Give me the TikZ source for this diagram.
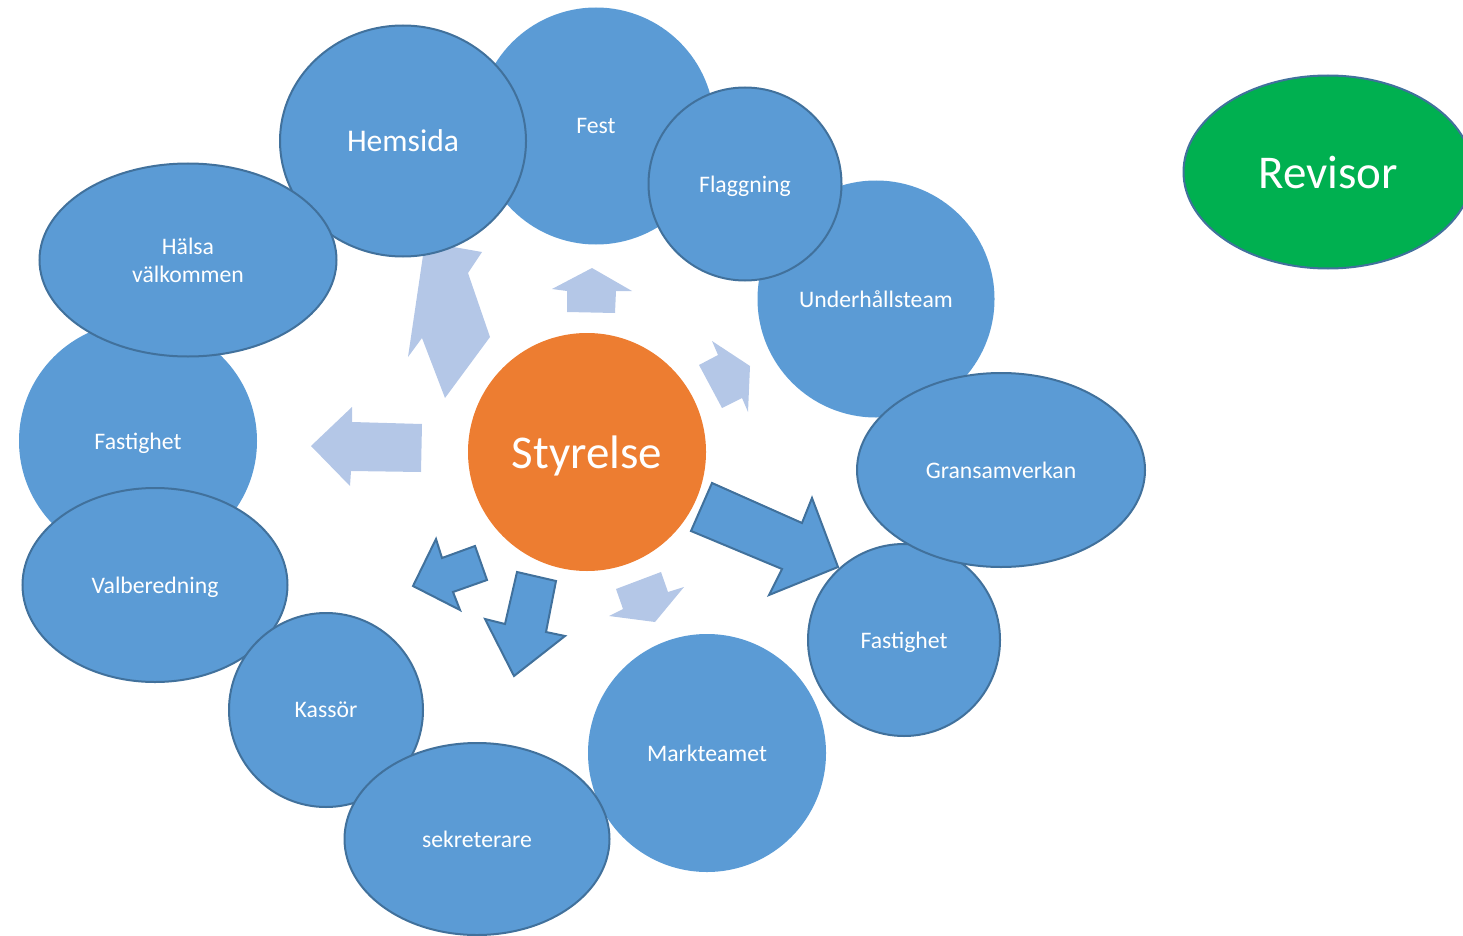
\documentclass[tikz,border=0pt]{standalone}
\usepackage{fontspec}
\setmainfont{Carlito}
\usetikzlibrary{shapes.geometric}

\definecolor{bubble}{HTML}{5B9BD5}
\definecolor{rim}{HTML}{41719C}
\definecolor{pale}{HTML}{B4C7E7}
\definecolor{board}{HTML}{ED7D31}
\definecolor{audit}{HTML}{00B050}

\begin{document}
\begin{tikzpicture}[x=1pt,y=-1pt,
  blob/.style={ellipse, fill=bubble, text=white, inner sep=0, align=center,
    text depth=0pt, font=\fontsize{23.7}{28}\selectfont},
  rimmed/.style={blob, draw=rim, line width=2pt},
  bigrim/.style={rimmed, font=\fontsize{31.6}{36}\selectfont},
  palearrow/.style={fill=pale},
  bluearrow/.style={fill=bubble, draw=rim, line width=2pt, line join=miter}]
\useasboundingbox (0,0) rectangle (1463,936);
\clip (0,0) rectangle (1463,936);

% arrows out of the board
\fill[palearrow] (567,312)--(567,291)--(552,289)--(592,268)--(632,291)--(616,291)--(615,313)--cycle;
\fill[palearrow] (425,242)--(482,252)--(468,273)--(490,337)--(445,398)--(422,338)--(408,357)--cycle;
\fill[palearrow] (699,365)--(718,355)--(712,341)--(750,366)--(748,412)--(742,398)--(722,408)--cycle;
\fill[palearrow] (422,424)--(352,422)--(352,407)--(311,446)--(350,486)--(351,471)--(421,472)--cycle;
\fill[palearrow] (616,589)--(661,572)--(668,592)--(684,587)--(655,622)--(609,616)--(623,609)--cycle;
\draw[bluearrow] (712,483)--(802,523)--(812,498)--(838,567)--(769,595)--(782,569)--(691,531)--cycle;
\draw[bluearrow] (517,572)--(556,581)--(546,632)--(565,636)--(514,676)--(485,619)--(505,624)--cycle;
\draw[bluearrow] (475,546)--(487,580)--(453,592)--(460,610)--(413,586)--(436,539)--(442,558)--cycle;

% groups round the board
\foreach \nm/\cx/\cy/\w/\h/\kind/\txt in {
  fest/596/126/237/237/blob/Fest,
  hemsida/403/141/246/231/bigrim/Hemsida,
  underhall/876/299/237/237/blob/Underhållsteam,
  flagg/745/184/193/193/rimmed/Flaggning,
  fastR/904/640/192/192/rimmed/Fastighet,
  gran/1001/470/288/194/rimmed/Gransamverkan,
  fastL/138/441/238/238/blob/Fastighet,
  halsa/188/260/297/193/rimmed/{Hälsa\\välkommen},
  valb/155/585/265/194/rimmed/Valberedning,
  kassor/326/710/194/194/rimmed/Kassör,
  mark/707/753/238/238/blob/Markteamet,
  sekr/477/839/265/192/rimmed/sekreterare}
  \node[\kind, minimum width=\w pt, minimum height=\h pt] (\nm) at (\cx,\cy) {\txt};

\node[blob, fill=board, minimum size=238pt, font=\fontsize{47}{52}\selectfont] (styrelse) at (587,452) {Styrelse};
\node[rimmed, fill=audit, minimum width=289pt, minimum height=193pt, font=\fontsize{47}{52}\selectfont] (revisor) at (1328,172) {Revisor};
\end{tikzpicture}
\end{document}
